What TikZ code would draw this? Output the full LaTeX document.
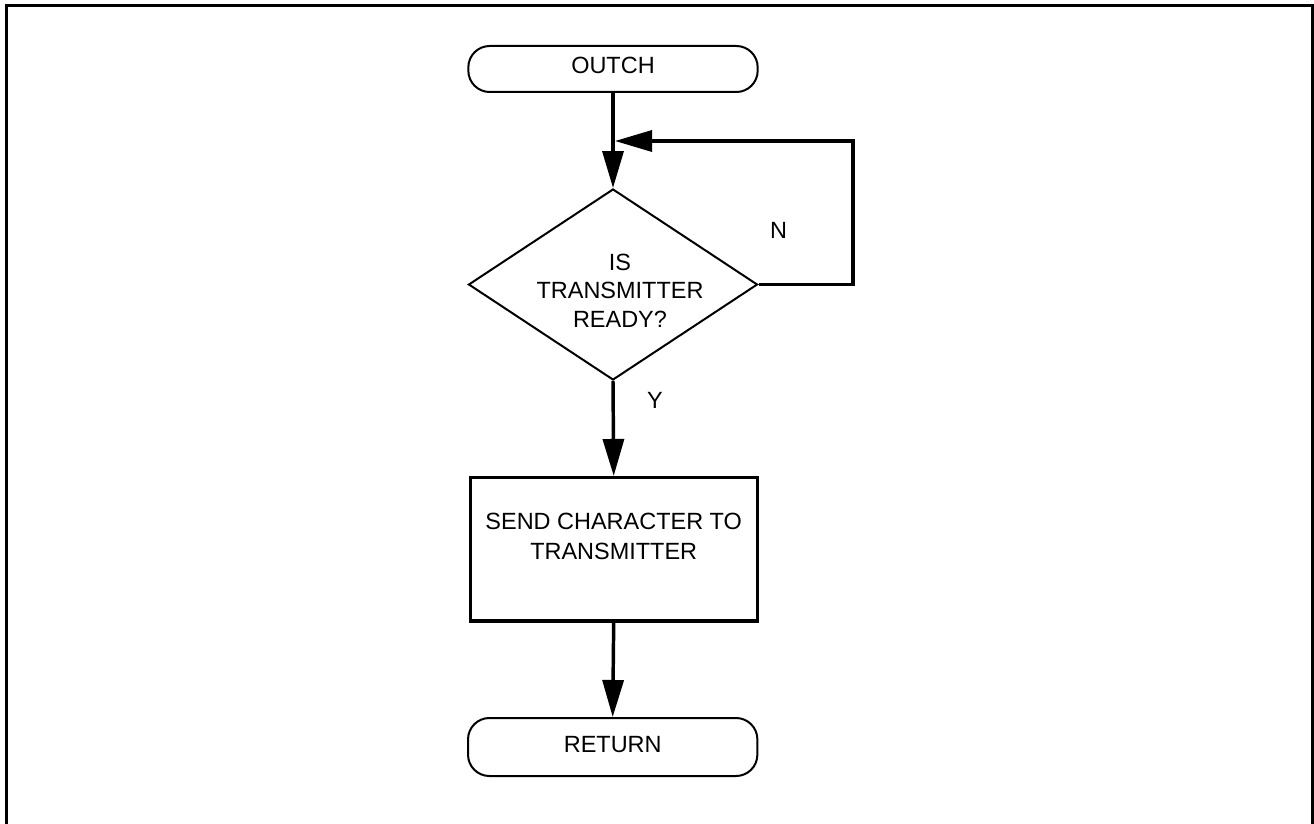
\documentclass[tikz,border=0pt]{standalone}
\usepackage{fontspec}
\setmainfont{Liberation Sans}
\usetikzlibrary{shapes.geometric,arrows.meta}
\begin{document}
\begin{tikzpicture}[x=0.75pt,y=-0.75pt,
  every node/.style={font=\fontsize{17.6pt}{21.4pt}\selectfont},
  term/.style={draw, line width=1.5pt, rectangle, minimum width=217pt, inner sep=0pt, rounded corners=16pt},
  decision/.style={draw, diamond, line width=1.5pt, minimum width=216.75pt, minimum height=143.25pt, inner sep=0pt},
  proc/.style={draw, rectangle, line width=2.5pt, minimum width=215.25pt, minimum height=107.5pt, inner sep=0pt, align=center},
  conn/.style={line width=2.6pt, -{Triangle[length=27.75pt,width=15.75pt]}},
  lbl/.style={inner sep=0pt, align=center},
  frame/.style={line width=2.3pt}
]
\useasboundingbox (0,0) rectangle (1314,824);
\draw[frame] (6.5,830) -- (6.5,5.3) -- (1312.5,5.3) -- (1312.5,830);

\node[term, minimum height=34.5pt, text depth=6pt] (outch) at (613,69) {OUTCH};
\node[decision] (dia) at (613,284.5) {};
\node[lbl] (dtext) at (620,290.5) {IS\\TRANSMITTER\\READY?};
\node[proc, text depth=19.5pt, font=\fontsize{17.6pt}{22.5pt}\selectfont] (send) at (613.7,549.3) {SEND CHARACTER TO\\TRANSMITTER};
\node[term, minimum height=43.5pt, text depth=4.5pt] (ret) at (612.7,747) {RETURN};

\node[lbl] (nlab) at (778.5,230) {N};
\node[lbl] (ylab) at (655,400) {Y};

\coordinate (lr) at (853,141);
\coordinate (jn) at (615,141);

\draw[conn] (outch.south) -- (dia.north);
\draw[conn] (dia.east) -| (lr) -- (jn);
\draw[conn] (dia.south) -- (send.north);
\draw[conn] (send.south) -- (ret.north);
\end{tikzpicture}
\end{document}
